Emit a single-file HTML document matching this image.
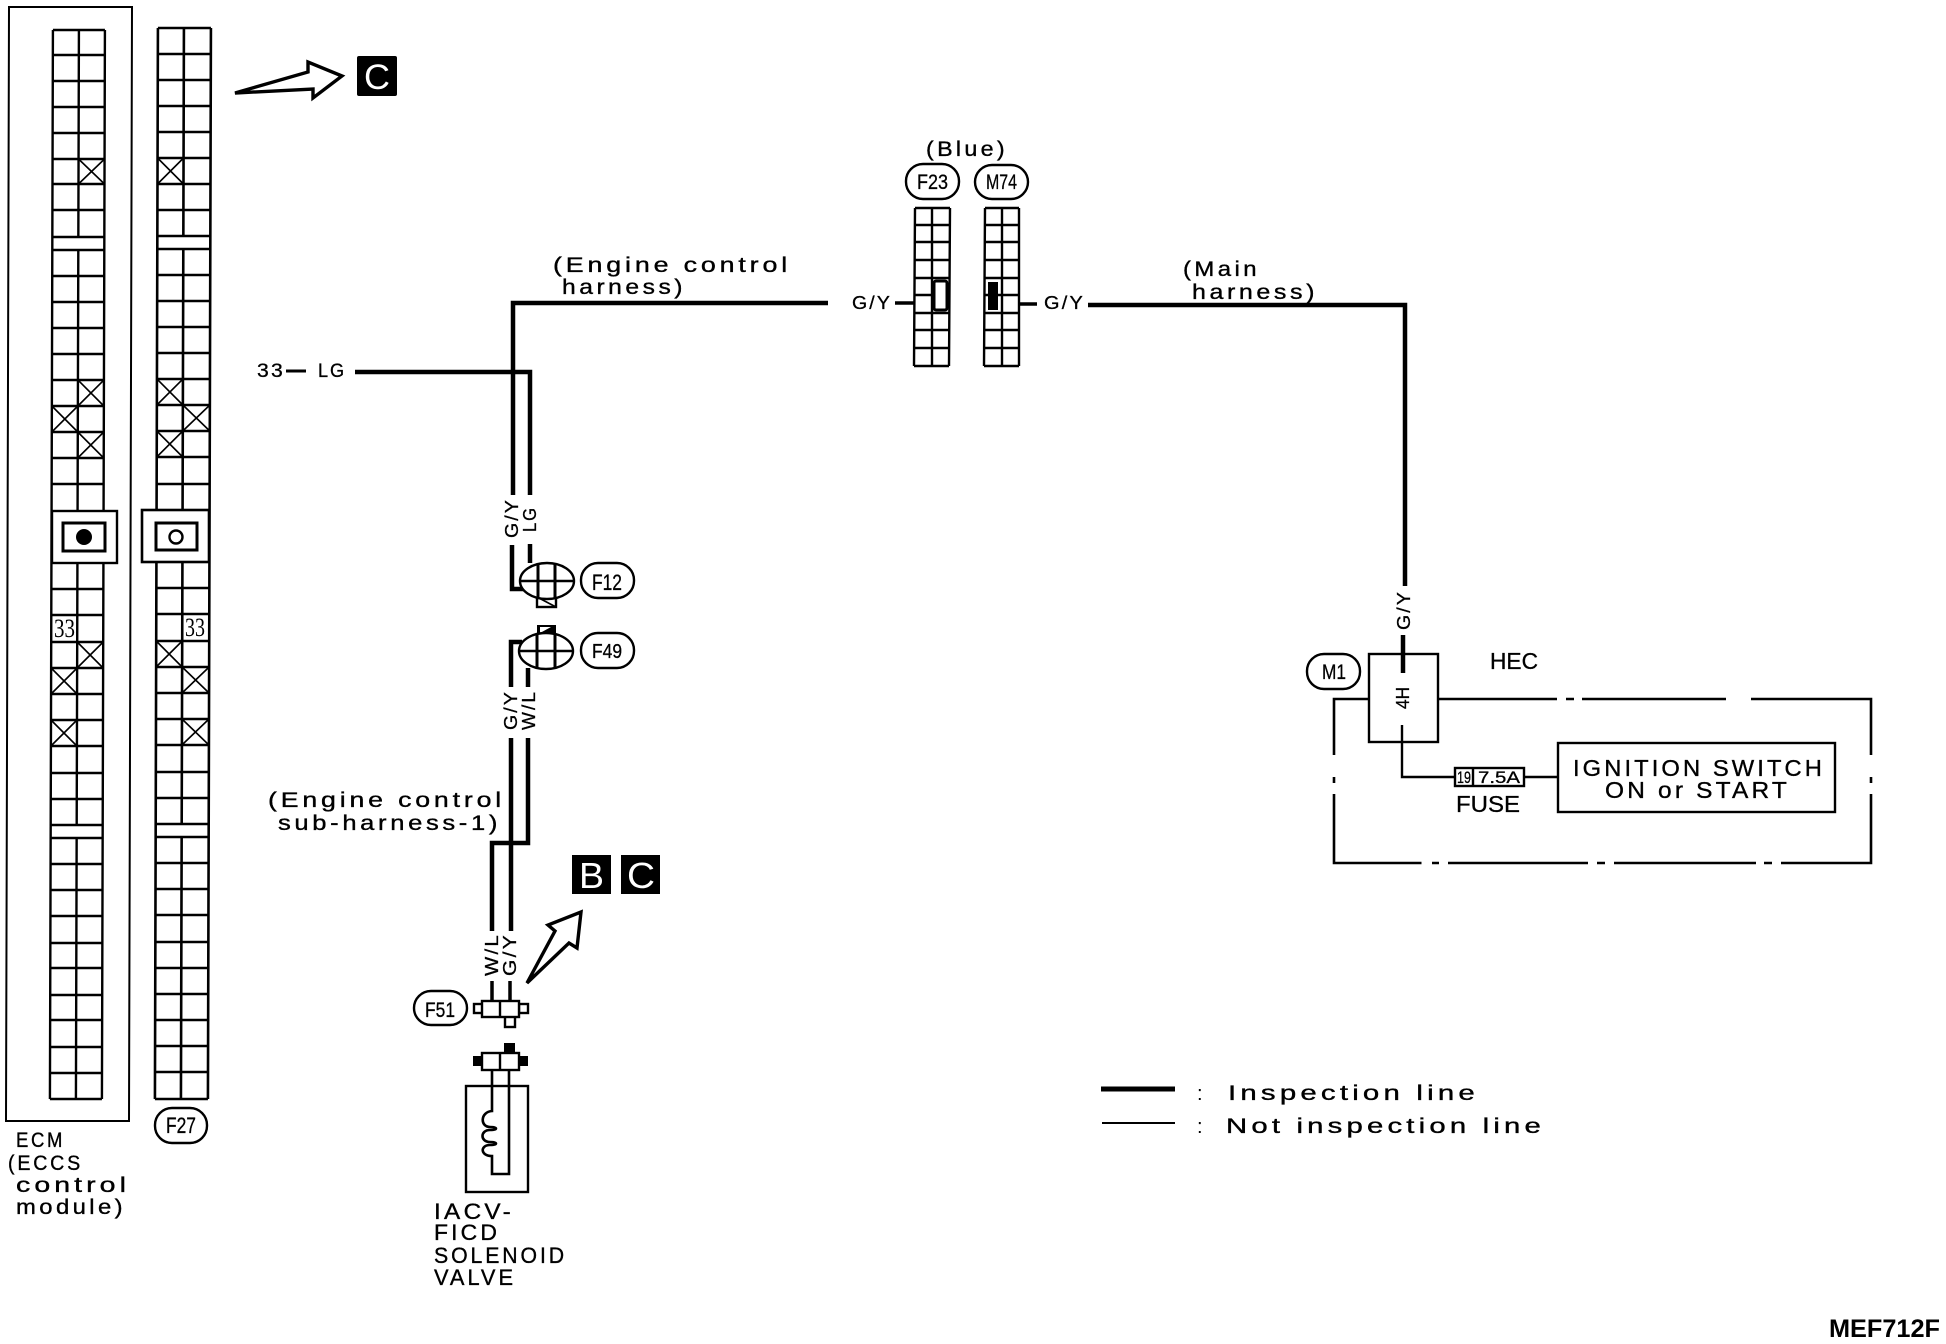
<!DOCTYPE html>
<html>
<head>
<meta charset="utf-8">
<title>MEF712F</title>
<style>
html,body{margin:0;padding:0;background:#fff;}
svg{display:block;}
text{font-family:"Liberation Sans",sans-serif;fill:#000;}
.s{letter-spacing:3px;stroke:#000;stroke-width:.35px;}
.m{letter-spacing:2px;stroke:#000;stroke-width:.3px;}
.c{stroke:#000;stroke-width:.3px;}
.l{fill:none;stroke:#000;stroke-width:2;}
.x{fill:none;stroke:#000;stroke-width:1.6;}
.w{fill:none;stroke:#000;stroke-width:4.5;}
.n{fill:none;stroke:#000;stroke-width:2.4;}
.o{fill:#fff;stroke:#000;stroke-width:2.4;}
.k{fill:#000;stroke:none;}
</style>
</head>
<body>
<svg width="1946" height="1344" viewBox="0 0 1946 1344" xmlns="http://www.w3.org/2000/svg">
<rect width="1946" height="1344" fill="#fff"/>

<!-- ECM outer -->
<path class="l" d="M9 7H132L129 1121H6Z"/>

<!-- ECM connector -->
<g transform="matrix(1 0 -0.0028 1 53 0)">
<path class="l" style="stroke-width:2.4" d="M0 30H52M0 55H52M0 81H52M0 107H52M0 133H52M0 159H52M0 184H52M0 210H52M0 237H52M0 250H52M0 276H52M0 302H52M0 328H52M0 354H52M0 380H52M0 406H52M0 432H52M0 458H52M0 484H52M0 589H52M0 615H52M0 642H52M0 668H52M0 694H52M0 720H52M0 746H52M0 773H52M0 799H52M0 825H52M0 838H52M0 864H52M0 890H52M0 916H52M0 943H52M0 968H52M0 995H52M0 1020H52M0 1047H52M0 1073H52M0 1099H52M0 30V1099M52 30V1099M26 30V237M26 250V511M26 563V825M26 838V1099"/>
<path class="x" d="M26 159L52 184M52 159L26 184M26 380L52 406M52 380L26 406M0 406L26 432M26 406L0 432M26 432L52 458M52 432L26 458M26 642L52 668M52 642L26 668M0 668L26 694M26 668L0 694M0 720L26 746M26 720L0 746"/>
</g>

<!-- F27 connector -->
<g transform="matrix(1 0 -0.0028 1 158 0)">
<path class="l" style="stroke-width:2.6" d="M0 28H53M0 54H53M0 80H53M0 106H53M0 132H53M0 158H53M0 184H53M0 210H53M0 236H53M0 249H53M0 275H53M0 301H53M0 327H53M0 353H53M0 379H53M0 405H53M0 431H53M0 457H53M0 484H53M0 588H53M0 614H53M0 641H53M0 667H53M0 693H53M0 719H53M0 745H53M0 772H53M0 798H53M0 824H53M0 837H53M0 863H53M0 889H53M0 915H53M0 942H53M0 968H53M0 994H53M0 1020H53M0 1046H53M0 1072H53M0 1099H53M0 28V1099M53 28V1099M26 28V236M26 249V510M26 562V824M26 837V1099"/>
<path class="x" d="M0 158L26 184M26 158L0 184M0 379L26 405M26 379L0 405M26 405L53 431M53 405L26 431M0 431L26 457M26 431L0 457M0 641L26 667M26 641L0 667M26 667L53 693M53 667L26 693M26 719L53 745M53 719L26 745"/>
</g>

<!-- Highlighted boxes -->
<rect class="o" x="52" y="511" width="65" height="52"/>
<rect class="o" style="stroke-width:3" x="63" y="523" width="42" height="28"/>
<circle class="k" cx="84" cy="537" r="8"/>
<rect class="o" style="stroke-width:2.6" x="142" y="510" width="67" height="52"/>
<rect class="o" style="stroke-width:3" x="156" y="523" width="41" height="27"/>
<circle class="o" cx="176" cy="537" r="6.5"/>

<!-- 33 labels -->
<text x="54" y="637" font-size="26" textLength="21" lengthAdjust="spacingAndGlyphs" style="font-family:'Liberation Serif',serif">33</text>
<text x="185" y="636" font-size="26" textLength="20" lengthAdjust="spacingAndGlyphs" style="font-family:'Liberation Serif',serif">33</text>

<!-- ECM label -->
<text class="s" x="16" y="1147" font-size="21" textLength="49" lengthAdjust="spacingAndGlyphs">ECM</text>
<text class="s" x="8" y="1170" font-size="21" textLength="75" lengthAdjust="spacingAndGlyphs">(ECCS</text>
<text class="s" x="16" y="1192" font-size="21" textLength="114" lengthAdjust="spacingAndGlyphs">control</text>
<text class="s" x="16" y="1214" font-size="21" textLength="110" lengthAdjust="spacingAndGlyphs">module)</text>

<!-- F27 tag -->
<rect class="n" x="155" y="1108" width="52" height="35" rx="17" ry="17"/>
<text class="c" x="166" y="1133" font-size="22" textLength="30" lengthAdjust="spacingAndGlyphs">F27</text>

<!-- top arrow and C -->
<path class="o" style="stroke-width:3.4" d="M235 93L308 72V62L342 76L313 98V89Z"/>
<rect class="k" x="357" y="56" width="40" height="40" rx="2"/>
<text x="364" y="89" font-size="35" textLength="26" lengthAdjust="spacingAndGlyphs" style="fill:#fff">C</text>

<!-- 33 LG -->
<text class="m" x="257" y="377" font-size="19" textLength="28" lengthAdjust="spacingAndGlyphs">33</text>
<path class="w" style="stroke-width:3" d="M286 371H306"/>
<text class="m" x="318" y="377" font-size="19" textLength="28" lengthAdjust="spacingAndGlyphs">LG</text>

<!-- Main wires left -->
<path class="w" d="M828 303H513V495"/>
<path class="w" d="M355 372H530V495"/>
<path class="w" d="M512 545V589H525"/>
<path class="w" d="M530 544V563"/>

<text class="m" transform="translate(518 538) rotate(-90)" font-size="18" textLength="40" lengthAdjust="spacingAndGlyphs">G/Y</text>
<text class="m" transform="translate(536 532) rotate(-90)" font-size="18" textLength="26" lengthAdjust="spacingAndGlyphs">LG</text>

<!-- F12 -->
<rect class="n" x="537" y="597" width="19" height="10"/>
<path class="n" style="stroke-width:1.6" d="M537 597L556 607"/>
<ellipse class="o" cx="547" cy="581" rx="27" ry="18"/>
<path class="n" style="stroke-width:3" d="M538 563V598M555 563V598"/>
<path class="n" d="M520 581H574"/>
<rect class="n" x="581" y="563" width="53" height="35" rx="17" ry="17"/>
<text class="c" x="592" y="590" font-size="22" textLength="30" lengthAdjust="spacingAndGlyphs">F12</text>

<!-- F49 -->
<rect class="k" x="537" y="625" width="19" height="10"/>
<path d="M540 633L551 627H540Z" fill="#fff"/>
<ellipse class="o" cx="546" cy="651" rx="27" ry="18"/>
<path class="n" style="stroke-width:3" d="M537 634V668M555 634V668"/>
<path class="n" d="M519 651H573"/>
<rect class="n" x="581" y="633" width="53" height="35" rx="17" ry="17"/>
<text class="c" x="592" y="658" font-size="20" textLength="30" lengthAdjust="spacingAndGlyphs">F49</text>
<path class="w" d="M522 642H511V687"/>
<path class="w" d="M528 668V687"/>
<text class="m" transform="translate(517 730) rotate(-90)" font-size="18" textLength="40" lengthAdjust="spacingAndGlyphs">G/Y</text>
<text class="m" transform="translate(535 730) rotate(-90)" font-size="18" textLength="40" lengthAdjust="spacingAndGlyphs">W/L</text>

<!-- sub harness wires -->
<path class="w" d="M511 738V931"/>
<path class="w" d="M528 738V843H492V931"/>

<!-- sub harness label -->
<text class="s" x="268" y="807" font-size="21" textLength="237" lengthAdjust="spacingAndGlyphs">(Engine control</text>
<text class="s" x="278" y="830" font-size="21" textLength="223" lengthAdjust="spacingAndGlyphs">sub-harness-1)</text>

<text class="m" transform="translate(498 976) rotate(-90)" font-size="18" textLength="43" lengthAdjust="spacingAndGlyphs">W/L</text>
<text class="m" transform="translate(516 976) rotate(-90)" font-size="18" textLength="43" lengthAdjust="spacingAndGlyphs">G/Y</text>
<path class="w" style="stroke-width:3.5" d="M492 981V1001M510 981V1001"/>

<!-- BC -->
<rect class="k" x="572" y="855" width="39" height="39"/>
<rect class="k" x="621" y="855" width="39" height="39"/>
<text x="579" y="888" font-size="36" textLength="25" lengthAdjust="spacingAndGlyphs" style="fill:#fff">B</text>
<text x="627" y="888" font-size="36" textLength="28" lengthAdjust="spacingAndGlyphs" style="fill:#fff">C</text>
<path class="o" style="stroke-width:3.4" d="M527 983L555 931L548 925L581 912L577 948L569 943Z"/>

<!-- F51 -->
<rect class="n" x="414" y="991" width="53" height="34" rx="17" ry="17"/>
<text class="c" x="425" y="1017" font-size="21" textLength="30" lengthAdjust="spacingAndGlyphs">F51</text>
<rect class="o" x="474" y="1004" width="9" height="9"/>
<rect class="o" x="519" y="1004" width="9" height="9"/>
<rect class="o" x="505" y="1016" width="10" height="11"/>
<rect class="o" x="482" y="1001" width="37" height="16"/>
<path class="n" d="M500 1001V1017"/>

<!-- Solenoid connector -->
<rect class="k" x="473" y="1056" width="10" height="10"/>
<rect class="k" x="518" y="1056" width="10" height="10"/>
<rect class="k" x="504" y="1043" width="11" height="10"/>
<rect class="o" x="482" y="1053" width="37" height="17"/>
<path class="n" d="M500 1053V1070"/>

<!-- Solenoid -->
<rect class="n" x="466" y="1086" width="62" height="106"/>
<path class="n" style="stroke-width:2.6" d="M492 1070V1111C480 1112 480 1127 490 1127C498 1127 498 1130 490 1130C480 1130 480 1142 490 1142C498 1142 498 1145 490 1145C480 1145 480 1156 492 1156V1174H509V1070"/>

<text class="s" x="434" y="1219" font-size="22" textLength="80" lengthAdjust="spacingAndGlyphs">IACV-</text>
<text class="s" x="434" y="1240" font-size="22" textLength="66" lengthAdjust="spacingAndGlyphs">FICD</text>
<text class="s" x="434" y="1263" font-size="22" textLength="133" lengthAdjust="spacingAndGlyphs">SOLENOID</text>
<text class="s" x="434" y="1285" font-size="22" textLength="82" lengthAdjust="spacingAndGlyphs">VALVE</text>

<!-- Engine control harness label -->
<text class="s" x="553" y="272" font-size="21" textLength="238" lengthAdjust="spacingAndGlyphs">(Engine control</text>
<text class="s" x="562" y="294" font-size="21" textLength="124" lengthAdjust="spacingAndGlyphs">harness)</text>

<!-- Blue -->
<text class="s" x="926" y="156" font-size="21" textLength="82" lengthAdjust="spacingAndGlyphs">(Blue)</text>
<rect class="n" x="906" y="164" width="53" height="35" rx="17" ry="17"/>
<text class="c" x="917" y="189" font-size="21" textLength="31" lengthAdjust="spacingAndGlyphs">F23</text>
<rect class="n" x="975" y="165" width="53" height="34" rx="17" ry="17"/>
<text class="c" x="986" y="189" font-size="21" textLength="31" lengthAdjust="spacingAndGlyphs">M74</text>

<!-- F23 -->
<path class="l" style="stroke-width:2.4" d="M915 208H950M915 225H950M915 242H950M915 260H950M915 278H950M915 295H950M915 313H950M914 330H949M914 348H949M914 366H949M915 208L914 366M950 208L949 366M932 208V366"/>
<rect x="934" y="281" width="13" height="29" rx="2" fill="#fff" stroke="#000" stroke-width="3"/>

<!-- M74 -->
<path class="l" style="stroke-width:2.4" d="M985 208H1019M985 225H1019M985 242H1019M985 260H1019M985 278H1019M985 295H1019M985 313H1019M984 330H1019M984 348H1019M984 366H1019M985 208L984 366M1019 208V366M1002 208V366"/>
<rect class="k" x="988" y="282" width="10" height="28"/>

<text class="m" x="852" y="309" font-size="18" textLength="40" lengthAdjust="spacingAndGlyphs">G/Y</text>
<path class="w" style="stroke-width:3.5" d="M895 303H915"/>
<path class="w" style="stroke-width:3.5" d="M1020 304H1037"/>
<text class="m" x="1044" y="309" font-size="18" textLength="41" lengthAdjust="spacingAndGlyphs">G/Y</text>
<path class="w" d="M1088 305H1405V586"/>

<!-- Main harness label -->
<text class="s" x="1183" y="276" font-size="21" textLength="77" lengthAdjust="spacingAndGlyphs">(Main</text>
<text class="s" x="1192" y="299" font-size="21" textLength="126" lengthAdjust="spacingAndGlyphs">harness)</text>

<text class="m" transform="translate(1410 630) rotate(-90)" font-size="18" textLength="40" lengthAdjust="spacingAndGlyphs">G/Y</text>
<path class="w" d="M1403 635V673"/>

<!-- M1 -->
<rect class="n" x="1307" y="654" width="53" height="35" rx="17" ry="17"/>
<text class="c" x="1322" y="679" font-size="21" textLength="24" lengthAdjust="spacingAndGlyphs">M1</text>

<!-- HEC region -->
<path class="n" style="stroke-width:2.6" d="M1369 699H1334V755M1334 777V783M1334 794V863H1421.5M1432 863H1439M1448 863H1588M1597 863H1605M1614 863H1756M1764 863H1772M1781 863H1871V794M1871 783V777M1871 755V699H1751M1726 699H1582M1574 699H1566M1557 699H1438"/>
<rect class="n" x="1369" y="654" width="69" height="88"/>
<text x="1490" y="669" font-size="23" textLength="48" lengthAdjust="spacingAndGlyphs" class="c">HEC</text>
<text class="c" transform="translate(1409 709) rotate(-90)" font-size="18" textLength="22" lengthAdjust="spacingAndGlyphs">4H</text>
<path class="n" d="M1402 725V777H1456"/>
<rect class="n" x="1455" y="768" width="69" height="18"/>
<path class="n" d="M1473 768V786"/>
<text class="c" x="1457" y="783" font-size="17" textLength="14" lengthAdjust="spacingAndGlyphs">19</text>
<text class="c" x="1478" y="783" font-size="17" textLength="42" lengthAdjust="spacingAndGlyphs">7.5A</text>
<path class="n" d="M1524 777H1559"/>
<text class="c" x="1456" y="812" font-size="23" textLength="64" lengthAdjust="spacingAndGlyphs">FUSE</text>
<rect class="n" x="1558" y="743" width="277" height="69"/>
<text class="s" x="1573" y="776" font-size="23" textLength="252" lengthAdjust="spacingAndGlyphs">IGNITION SWITCH</text>
<text class="s" x="1605" y="798" font-size="23" textLength="185" lengthAdjust="spacingAndGlyphs">ON or START</text>

<!-- Legend -->
<path class="w" style="stroke-width:5" d="M1101 1089H1175"/>
<text x="1197" y="1100" font-size="20">:</text>
<text class="s" x="1228" y="1100" font-size="21" textLength="251" lengthAdjust="spacingAndGlyphs">Inspection line</text>
<path class="n" style="stroke-width:2" d="M1102 1123H1175"/>
<text x="1197" y="1133" font-size="20">:</text>
<text class="s" x="1226" y="1133" font-size="21" textLength="319" lengthAdjust="spacingAndGlyphs">Not inspection line</text>

<text x="1829" y="1337" font-size="25" font-weight="700" textLength="111" lengthAdjust="spacingAndGlyphs">MEF712F</text>
</svg>
</body>
</html>
